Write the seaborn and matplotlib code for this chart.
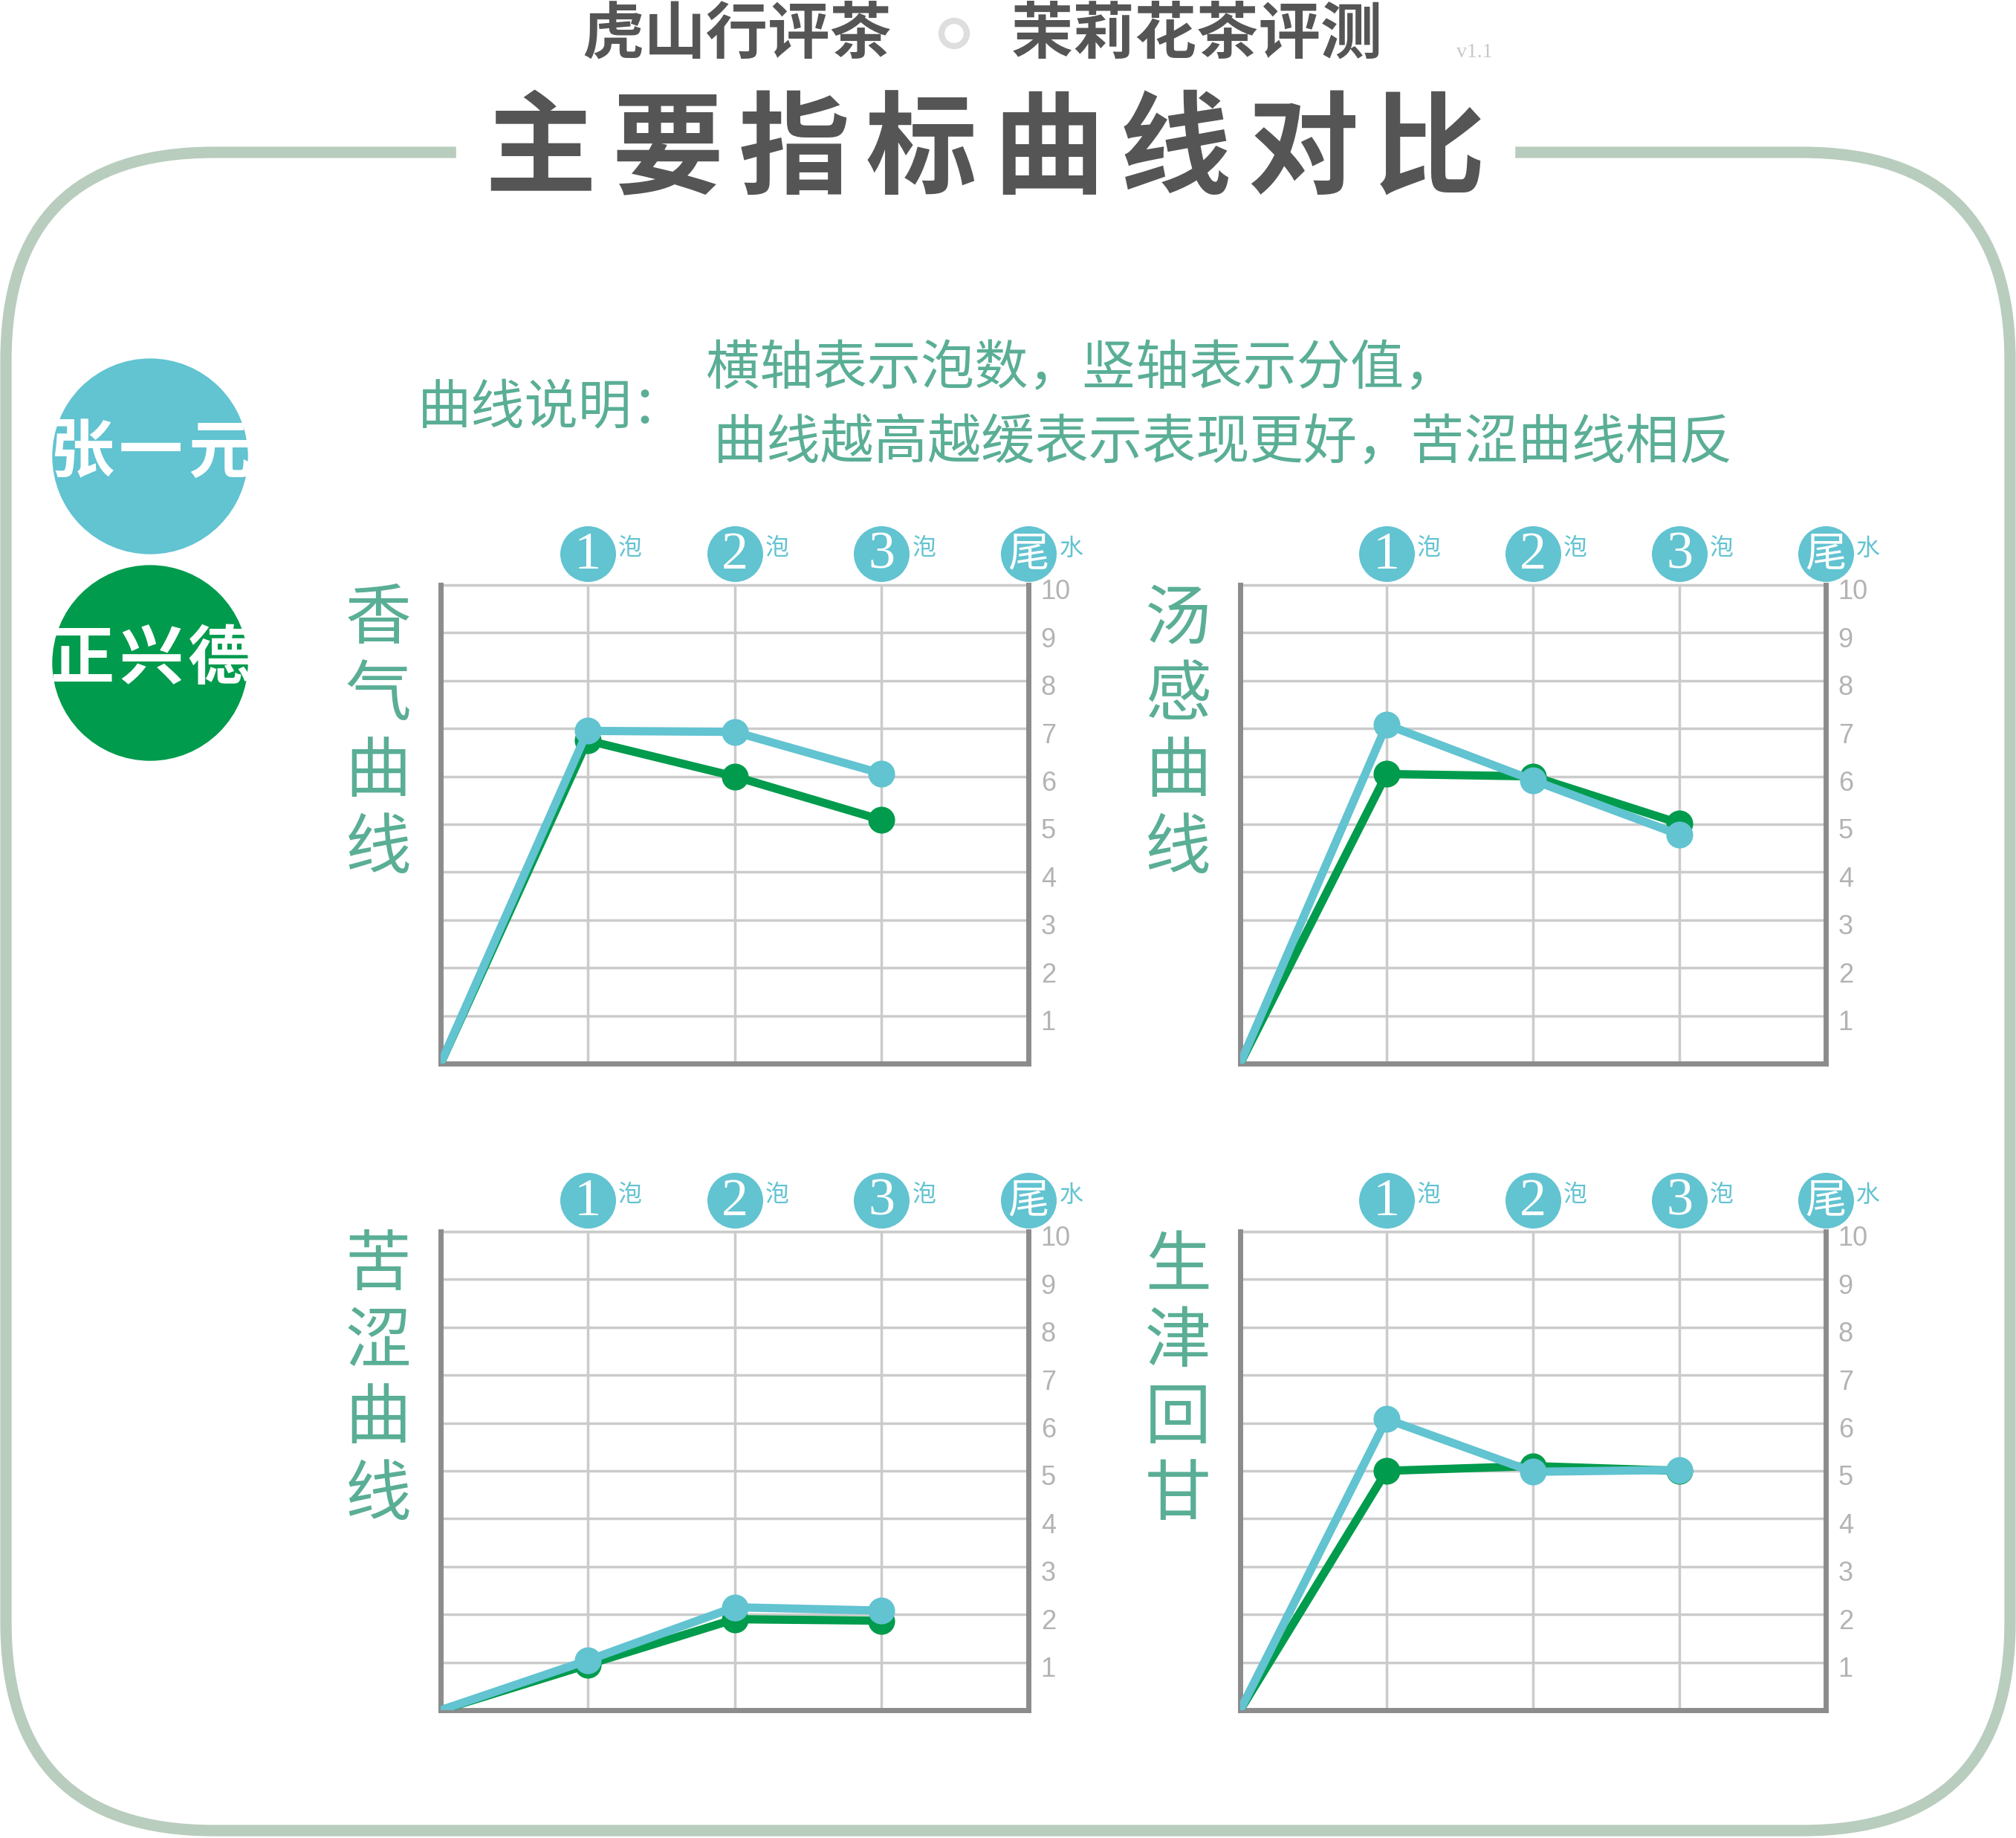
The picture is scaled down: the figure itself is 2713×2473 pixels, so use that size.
import matplotlib
matplotlib.use('Agg')
import matplotlib.pyplot as plt
import seaborn as sns
import pandas as pd
from matplotlib.patches import FancyBboxPatch, Circle, Rectangle
from matplotlib.transforms import ScaledTranslation

# canvas size in pixels
W, H = 2713, 2473

# data
steps = [0, 1, 2, 3]
top_labels = ['1', '2', '3', '尾']
top_suffix = ['泡', '泡', '泡', '水']
panel_titles = ['香气曲线', '汤感曲线', '苦涩曲线', '生津回甘']
brands = ['张一元', '正兴德']
y_ticks = [1, 2, 3, 4, 5, 6, 7, 8, 9, 10]

zhang_aroma = [0, 6.95, 6.93, 6.06]
zhang_soup = [0, 7.08, 5.92, 4.78]
zhang_bitter = [0, 1.04, 2.15, 2.08]
zhang_sweet = [0, 6.08, 4.98, 5.02]

zxd_aroma = [0, 6.75, 6.0, 5.09]
zxd_soup = [0, 6.05, 6.0, 5.02]
zxd_bitter = [0, 0.95, 1.9, 1.87]
zxd_sweet = [0, 5.0, 5.1, 5.0]

zhang_all = [zhang_aroma, zhang_soup, zhang_bitter, zhang_sweet]
zxd_all = [zxd_aroma, zxd_soup, zxd_bitter, zxd_sweet]

# colours
blue = '#62c3d1'
green = '#009b4c'
text_green = '#5aae96'
dark_gray = '#555555'
spine_gray = '#8c8c8c'
grid_gray = '#cbcbcb'
border_col = '#b8cdbd'

sns.set_theme(style='white')
plt.rcParams['font.family'] = ['Noto Sans CJK SC', 'DejaVu Sans']

fig = plt.figure(figsize=(W / 100, H / 100), dpi=100)
fig.patch.set_facecolor('white')

# background axes in pixel coords (y downwards)
bg = fig.add_axes([0, 0, 1, 1], zorder=0)
bg.set_xlim(0, W)
bg.set_ylim(H, 0)
bg.axis('off')

# rounded frame
frame = FancyBboxPatch((8, 205), 2697, 2258, boxstyle='round,pad=0,rounding_size=280',
                       fill=False, ec=border_col, lw=11)
bg.add_patch(frame)
bg.add_patch(Rectangle((614, 180), 1424, 50, color='white', zorder=3))

# header
bg.text(992, 47, '虎山行评茶', fontsize=60, fontweight='bold', color=dark_gray, ha='center', va='center')
bg.add_patch(Circle((1284, 45), 17, fill=False, ec='#dedede', lw=6))
bg.text(1611, 47, '茉莉花茶评测', fontsize=60, fontweight='bold', color=dark_gray, ha='center', va='center')
bg.text(1984, 70, 'v1.1', fontsize=20, color='#c8c8c8', family='Liberation Serif', ha='center', va='center')

title = '主要指标曲线对比'
for i, ch in enumerate(title):
    bg.text(727 + 171 * i, 205, ch, fontsize=108, fontweight='bold', color=dark_gray,
            ha='center', va='center', zorder=4)

# legend circles
legend_pos = [(202, 614, blue), (202, 892, green)]
for (cx, cy, col), name in zip(legend_pos, brands):
    bg.add_patch(Circle((cx, cy), 131, color=col))
    for j, ch in enumerate(name):
        bg.text(cx - 92 + 93 * j, cy - 4, ch, fontsize=62, fontweight='bold', color='white',
                ha='center', va='center')

# explanation text
bg.text(562, 550, '曲线说明：', fontsize=52, color=text_green, ha='left', va='center')
bg.text(950, 497, '横轴表示泡数，竖轴表示分值，', fontsize=52, color=text_green, ha='left', va='center')
bg.text(960, 597, '曲线越高越缓表示表现更好，苦涩曲线相反', fontsize=52, color=text_green, ha='left', va='center')

# panels (left, top, right, bottom) in pixels
boxes = [(593, 787, 1384, 1431), (1669, 787, 2457, 1431),
         (593, 1657, 1384, 2301), (1669, 1657, 2457, 2301)]

for k, (l, t, r, b) in enumerate(boxes):
    ax = fig.add_axes([l / W, 1 - b / H, (r - l) / W, (b - t) / H], zorder=1)
    ax.set_facecolor('none')

    df = pd.DataFrame({'step': steps, '张一元': zhang_all[k], '正兴德': zxd_all[k]})
    sns.lineplot(data=df, x='step', y='正兴德', ax=ax, color=green, lw=8, marker='o',
                 markersize=26, markeredgewidth=0, markevery=[1, 2, 3], zorder=3)
    sns.lineplot(data=df, x='step', y='张一元', ax=ax, color=blue, lw=8, marker='o',
                 markersize=26, markeredgewidth=0, markevery=[1, 2, 3], zorder=4)

    ax.set_xlim(0, 4)
    ax.set_ylim(0, 10)
    ax.set_xlabel('')
    ax.set_ylabel('')
    ax.set_xticks([1, 2, 3])
    ax.set_xticklabels([])
    ax.yaxis.tick_right()
    ax.set_yticks(y_ticks)
    ax.set_yticklabels([str(v) for v in y_ticks])
    ax.tick_params(length=0, pad=12, labelsize=26, labelcolor='#b3b3b3',
                   labelfontfamily='Liberation Sans')
    for lab in ax.get_yticklabels():
        lab.set_transform(lab.get_transform() + ScaledTranslation(0, -0.06, fig.dpi_scale_trans))
    ax.grid(True, color=grid_gray, lw=2.5)
    ax.set_axisbelow(True)
    ax.axhline(10, color=grid_gray, lw=2.5, clip_on=False, zorder=1)

    ax.spines['top'].set_visible(False)
    for s in ['left', 'right', 'bottom']:
        ax.spines[s].set_color(spine_gray)
        ax.spines[s].set_linewidth(5)
        ax.spines[s].set_zorder(2.5)

    # top step badges
    xt = ax.get_xaxis_transform()
    ax.plot([1, 2, 3, 4], [1.065] * 4, transform=xt, ls='none', marker='o', ms=54,
            color=blue, mew=0, clip_on=False, zorder=5)
    for x, lab, suf in zip([1, 2, 3, 4], top_labels, top_suffix):
        fs = 40 if lab == '尾' else 52
        ax.text(x, 1.062, lab, transform=xt, fontsize=fs, color='white', ha='center', va='center',
                family=['Liberation Serif', 'Noto Sans CJK SC'], clip_on=False, zorder=6)
        ax.text(x + 0.29, 1.076, suf, transform=xt, fontsize=23, color=blue, ha='center',
                va='center', clip_on=False, zorder=6)

    # vertical panel title
    for j, ch in enumerate(panel_titles[k]):
        ax.text(-0.106, 0.927 - 0.16 * j, ch, transform=ax.transAxes, fontsize=64,
                color=text_green, ha='center', va='center', clip_on=False)

fig.savefig('out.png', dpi=100, facecolor='white')
